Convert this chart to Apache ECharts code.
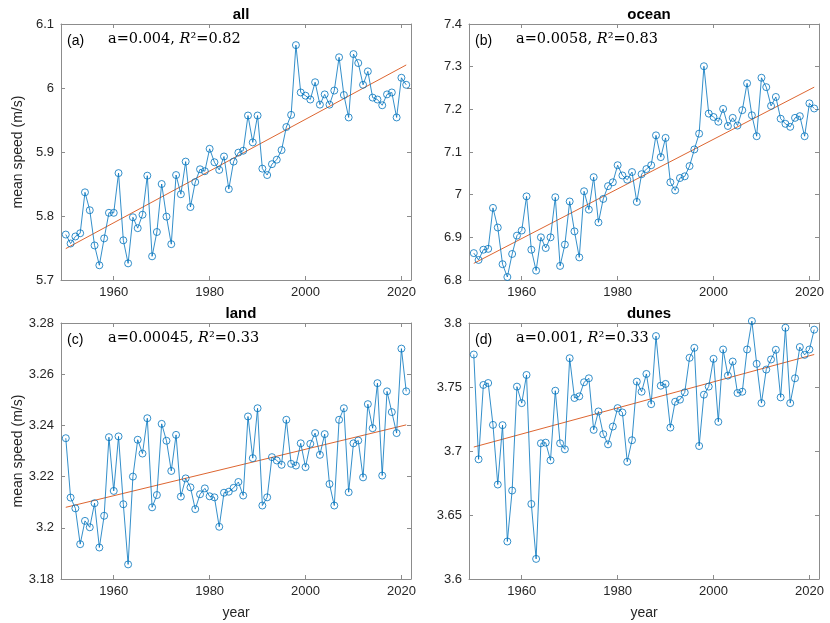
<!DOCTYPE html>
<html>
<head>
<meta charset="utf-8">
<script src="https://cdn.jsdelivr.net/npm/echarts@6/dist/echarts.min.js"></script>
<style>
  html, body { margin: 0; padding: 0; background: #fff; }
  #main { width: 830px; height: 623px; }
</style>
</head>
<body>
<div id="main"></div>
<script>
// 年份 1950-2021
var years = [];
for (var y = 1950; y <= 2021; y++) years.push(y);

var allSpeed = [5.771, 5.757, 5.768, 5.773, 5.837, 5.809, 5.754, 5.723, 5.765, 5.805,
    5.805, 5.867, 5.762, 5.726, 5.798, 5.781, 5.802, 5.863, 5.737, 5.775,
    5.850, 5.799, 5.756, 5.864, 5.834, 5.885, 5.814, 5.853, 5.873, 5.870,
    5.905, 5.884, 5.872, 5.893, 5.842, 5.885, 5.899, 5.902, 5.957, 5.915,
    5.957, 5.874, 5.864, 5.881, 5.888, 5.903, 5.939, 5.958, 6.067, 5.993,
    5.988, 5.982, 6.009, 5.974, 5.990, 5.974, 5.996, 6.048, 5.989, 5.954,
    6.053, 6.039, 6.005, 6.026, 5.985, 5.982, 5.973, 5.990, 5.993, 5.954,
    6.016, 6.005];

var oceanSpeed = [6.863, 6.847, 6.871, 6.873, 6.969, 6.923, 6.837, 6.807, 6.861, 6.904,
    6.916, 6.996, 6.871, 6.822, 6.900, 6.875, 6.900, 6.994, 6.833, 6.883,
    6.984, 6.914, 6.853, 7.008, 6.965, 7.041, 6.935, 6.990, 7.020, 7.029,
    7.069, 7.045, 7.035, 7.053, 6.983, 7.048, 7.060, 7.069, 7.139, 7.088,
    7.133, 7.029, 7.010, 7.039, 7.043, 7.067, 7.106, 7.143, 7.301, 7.190,
    7.182, 7.171, 7.201, 7.161, 7.180, 7.162, 7.198, 7.261, 7.186, 7.137,
    7.274, 7.252, 7.208, 7.229, 7.178, 7.166, 7.159, 7.180, 7.184, 7.137,
    7.214, 7.202];

var landSpeed = [3.2350, 3.2118, 3.2076, 3.1936, 3.2027, 3.2002, 3.2096, 3.1923, 3.2047, 3.2354,
    3.2144, 3.2357, 3.2092, 3.1857, 3.2200, 3.2344, 3.2290, 3.2428, 3.2080, 3.2128,
    3.2406, 3.2340, 3.2222, 3.2363, 3.2122, 3.2193, 3.2158, 3.2073, 3.2131, 3.2154,
    3.2123, 3.2119, 3.2004, 3.2137, 3.2141, 3.2156, 3.2179, 3.2126, 3.2435, 3.2272,
    3.2467, 3.2087, 3.2119, 3.2276, 3.2263, 3.2246, 3.2422, 3.2250, 3.2243, 3.2330,
    3.2237, 3.2328, 3.2370, 3.2285, 3.2366, 3.2171, 3.2087, 3.2422, 3.2467, 3.2139,
    3.2330, 3.2341, 3.2197, 3.2483, 3.2389, 3.2565, 3.2204, 3.2533, 3.2452, 3.2370,
    3.2700, 3.2533];

var dunesSpeed = [3.7754, 3.6935, 3.7516, 3.7531, 3.7204, 3.6738, 3.7202, 3.6293, 3.6691, 3.7503,
    3.7374, 3.7594, 3.6586, 3.6157, 3.7060, 3.7065, 3.6927, 3.7471, 3.7060, 3.7013,
    3.7725, 3.7414, 3.7427, 3.7537, 3.7568, 3.7165, 3.7309, 3.7131, 3.7052, 3.7191,
    3.7335, 3.7301, 3.6916, 3.7084, 3.7542, 3.7463, 3.7602, 3.7366, 3.7898, 3.7510,
    3.7524, 3.7183, 3.7385, 3.7401, 3.7458, 3.7728, 3.7806, 3.7039, 3.7440, 3.7503,
    3.7720, 3.7228, 3.7793, 3.7589, 3.7699, 3.7453, 3.7463, 3.7793, 3.8015, 3.7681,
    3.7374, 3.7636, 3.7715, 3.7791, 3.7419, 3.7963, 3.7374, 3.7568, 3.7812, 3.7751,
    3.7793, 3.7948];

// 趋势线两端 [1950, 2021]
var trendYears = [1950, 2021];
var allTrend = [5.749, 6.036];
var oceanTrend = [6.839, 7.252];
var landTrend = [3.2080, 3.2402];
var dunesTrend = [3.7031, 3.7754];

var panelTitles = ['all', 'ocean', 'land', 'dunes'];
var panelTags = ['(a)', '(b)', '(c)', '(d)'];
var slopeText = ['0.004', '0.0058', '0.00045', '0.001'];
var r2Text = ['0.82', '0.83', '0.33', '0.33'];
var yRanges = [[5.7, 6.1, 0.1], [6.8, 7.4, 0.1], [3.18, 3.28, 0.02], [3.6, 3.8, 0.05]];
var xTicks = [1960, 1980, 2000, 2020];

var speeds = [allSpeed, oceanSpeed, landSpeed, dunesSpeed];
var trends = [allTrend, oceanTrend, landTrend, dunesTrend];

var gridPos = [
    { left: 61, top: 24 },
    { left: 469, top: 24 },
    { left: 61, top: 323 },
    { left: 469, top: 323 }
];
var gridW = 350, gridH = 256;

var axisGray = '#8c8c8c';
var labelColor = '#262626';

var grids = [], xAxes = [], yAxes = [], series = [], titles = [], graphics = [];

gridPos.forEach(function (p, i) {
    grids.push({ left: p.left, top: p.top, width: gridW, height: gridH });
    var isBottom = i >= 2, isLeft = (i % 2 === 0);

    // 下方 x 轴
    xAxes.push({
        type: 'value', gridIndex: i, min: 1949, max: 2022,
        name: isBottom ? 'year' : '', nameLocation: 'middle', nameGap: 27,
        nameTextStyle: { fontSize: 14, color: labelColor, fontFamily: 'Liberation Sans' },
        axisLine: { show: true, lineStyle: { color: axisGray, width: 1 } },
        axisTick: { show: true, inside: true, length: 4, customValues: xTicks, lineStyle: { color: axisGray } },
        axisLabel: {
            show: true, customValues: xTicks, fontSize: 13, color: labelColor, margin: 6,
            fontFamily: 'Liberation Sans',
            formatter: function (v) { return String(v); }
        },
        splitLine: { show: false }
    });
    // 上方 x 轴（只画刻度）
    xAxes.push({
        type: 'value', gridIndex: i, min: 1949, max: 2022, position: 'top',
        axisLine: { show: true, lineStyle: { color: axisGray, width: 1 } },
        axisTick: { show: true, inside: true, length: 4, customValues: xTicks, lineStyle: { color: axisGray } },
        axisLabel: { show: false },
        splitLine: { show: false }
    });

    var r = yRanges[i];
    yAxes.push({
        type: 'value', gridIndex: i, min: r[0], max: r[1], interval: r[2],
        name: isLeft ? 'mean speed (m/s)' : '', nameLocation: 'middle', nameGap: 36,
        nameTextStyle: { fontSize: 14, color: labelColor, fontFamily: 'Liberation Sans' },
        axisLine: { show: true, lineStyle: { color: axisGray, width: 1 } },
        axisTick: { show: true, inside: true, length: 4, lineStyle: { color: axisGray } },
        axisLabel: { fontSize: 13, color: labelColor, margin: 7, fontFamily: 'Liberation Sans' },
        splitLine: { show: false }
    });
    yAxes.push({
        type: 'value', gridIndex: i, min: r[0], max: r[1], interval: r[2], position: 'right',
        axisLine: { show: true, lineStyle: { color: axisGray, width: 1 } },
        axisTick: { show: true, inside: true, length: 4, lineStyle: { color: axisGray } },
        axisLabel: { show: false },
        splitLine: { show: false }
    });

    series.push({
        type: 'line', xAxisIndex: i * 2, yAxisIndex: i * 2,
        data: years.map(function (yr, k) { return [yr, speeds[i][k]]; }),
        symbol: 'circle', symbolSize: 7, showAllSymbol: true, clip: false,
        lineStyle: { color: '#0072BD', width: 0.8 },
        itemStyle: { color: 'rgba(255,255,255,0)', borderColor: '#0072BD', borderWidth: 0.8 },
        emphasis: { disabled: true }, animation: false, z: 3
    });
    series.push({
        type: 'line', xAxisIndex: i * 2, yAxisIndex: i * 2,
        data: trendYears.map(function (yr, k) { return [yr, trends[i][k]]; }),
        symbol: 'none',
        lineStyle: { color: '#D95319', width: 0.9 },
        emphasis: { disabled: true }, animation: false, z: 2
    });

    titles.push({
        text: panelTitles[i], left: p.left + gridW / 2, top: p.top - 22, textAlign: 'center',
        textStyle: { fontSize: 15, fontWeight: 'bold', color: '#000', fontFamily: 'Liberation Sans' }
    });

    graphics.push({
        type: 'text', left: p.left + 6, top: p.top + 10,
        style: { text: panelTags[i], fontSize: 14, fill: '#000', fontFamily: 'Liberation Sans' }
    });
    graphics.push({
        type: 'text', left: p.left + 47, top: p.top + 8,
        style: {
            text: '{t|a=' + slopeText[i] + ', }{i|R}{t|²=' + r2Text[i] + '}',
            rich: {
                t: { fontSize: 14.5, fontFamily: 'DejaVu Serif', fill: '#000' },
                i: { fontSize: 14.5, fontFamily: 'DejaVu Serif', fontStyle: 'italic', fill: '#000' }
            }
        }
    });
});

var myChart = echarts.init(document.getElementById('main'), null, { renderer: 'canvas' });
var option = {
    backgroundColor: '#fff',
    animation: false,
    title: titles,
    grid: grids,
    xAxis: xAxes,
    yAxis: yAxes,
    series: series,
    graphic: graphics
};
myChart.setOption(option);
</script>
</body>
</html>
